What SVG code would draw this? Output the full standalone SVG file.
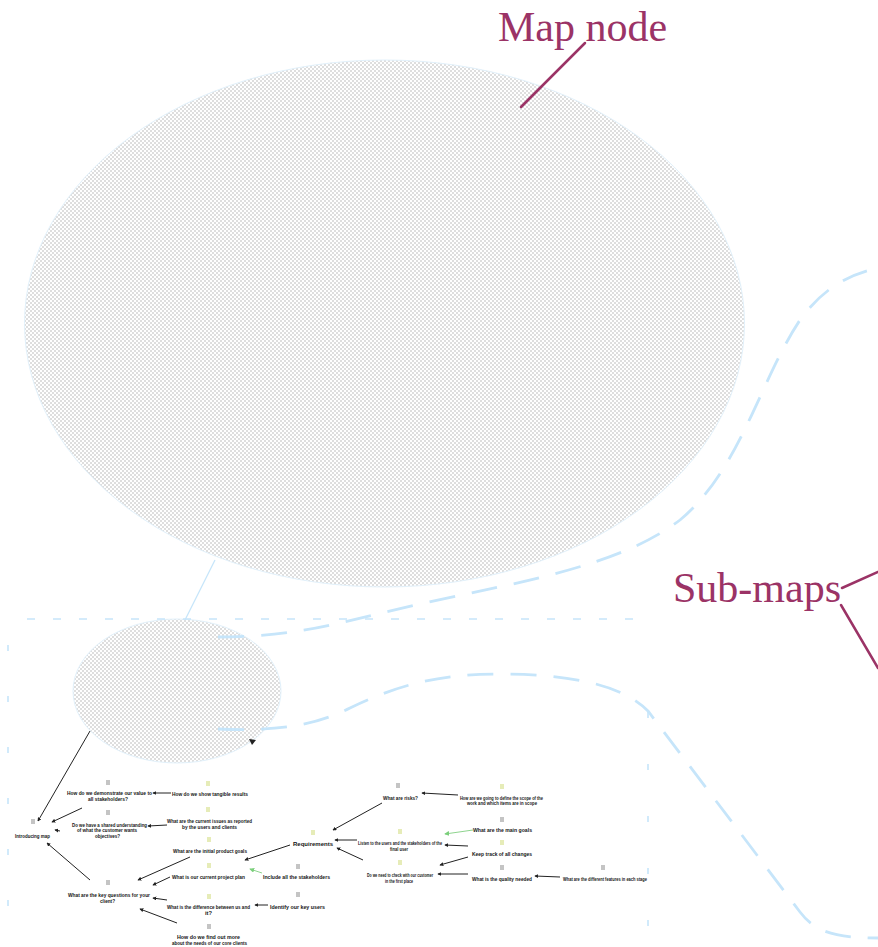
<svg xmlns="http://www.w3.org/2000/svg" width="878" height="947" viewBox="0 0 878 947">
  <style>
    .callout { font-family: "Liberation Serif", "Times New Roman", serif; font-size: 42px; fill: #9b3366; }
    .lead { stroke: #9b3366; stroke-width: 2.5; fill: none; stroke-linecap: round; }
    .submap { stroke: #c6e5fa; stroke-width: 2.8; fill: none; stroke-dasharray: 26 17; }
    .frame { stroke: #c6e5fa; stroke-width: 1.6; fill: none; }
    .blob { fill: url(#chk); stroke: #e2f1fb; stroke-width: 1; }
    .lbl { font-family: "Liberation Sans", Arial, sans-serif; font-size: 5px; font-weight: bold; fill: #151515; }
    .q { fill: #c4c4c4; }
    .i { fill: #e6ecb8; }
    .link { stroke: #222; stroke-width: 1; fill: none; marker-end: url(#ah); }
    .glink { stroke: #8fd48f; stroke-width: 1; fill: none; marker-end: url(#gah); }
  </style>
  <defs>
    <pattern id="chk" width="4" height="4" patternUnits="userSpaceOnUse">
      <rect width="4" height="4" fill="#ffffff"/>
      <rect width="2" height="2" fill="#dedede"/>
      <rect x="2" y="2" width="2" height="2" fill="#dedede"/>
    </pattern>
    <marker id="ah" viewBox="0 0 6 6" refX="5" refY="3" markerWidth="4" markerHeight="4" markerUnits="userSpaceOnUse" orient="auto">
      <path d="M0,0 L6,3 L0,6 Z" fill="#222"/>
    </marker>
    <marker id="gah" viewBox="0 0 6 6" refX="5" refY="3" markerWidth="5" markerHeight="5" markerUnits="userSpaceOnUse" orient="auto">
      <path d="M0,0 L6,3 L0,6 Z" fill="#7bcf7b"/>
    </marker>
  </defs>

  <rect width="878" height="947" fill="#ffffff"/>

  <!-- map node -->
  <g id="map-node">
    <ellipse class="blob" cx="384.5" cy="323.5" rx="360" ry="263.5"/>
  </g>

  <!-- map node as it appears inside the sub-map -->
  <g id="sub-map-node">
    <ellipse class="blob" cx="177" cy="691" rx="104" ry="72"/>
  </g>

  <!-- connectors: sub-map outlines, links and callout leaders -->
  <g id="connectors">
    <line x1="215" y1="560" x2="185" y2="620" stroke="#c6e5fa" stroke-width="1.2"/>
    <path class="frame" d="M27,619 H648" stroke-dasharray="8 18"/>
    <path class="frame" d="M8,645 V947" stroke-dasharray="6 45"/>
    <path class="frame" d="M648,712 V947" stroke-dasharray="6 46"/>
    <path class="submap" d="M218,637 C300,637 340,622 420,604 C520,582 620,566 680,520 C740,470 760,380 800,320 C820,292 845,275 878,268"/>
    <path class="submap" d="M218,729 C270,731 310,728 350,708 C400,684 440,674 500,674 C560,674 620,682 648,711 L800,912 C815,932 835,938 878,938"/>
    <path class="lead" d="M585,43 L521,107"/>
    <path class="lead" d="M842,588 L878,572"/>
    <path class="lead" d="M841,605 L878,668"/>
  </g>

  <g id="label-map-node">
    <text class="callout" x="498" y="41">Map node</text>
  </g>
  <g id="label-sub-maps">
    <text class="callout" x="673" y="602">Sub-maps</text>
  </g>

  <!-- sub-map contents -->
  <g id="sub-map">
    <path d="M249,739 L256,740 L252,745 Z" fill="#222"/>

    <g id="sub-map-links">
      <line class="link" x1="90" y1="731" x2="38" y2="821"/>
      <line class="link" x1="171" y1="793" x2="153" y2="793"/>
      <line class="link" x1="82" y1="808" x2="52" y2="822"/>
      <line class="link" x1="167" y1="825" x2="148" y2="826"/>
      <line class="link" x1="60" y1="831" x2="55" y2="830"/>
      <line class="link" x1="90" y1="880" x2="47" y2="843"/>
      <line class="link" x1="190" y1="857" x2="138" y2="880"/>
      <line class="link" x1="170" y1="877" x2="153" y2="885"/>
      <line class="link" x1="167" y1="900" x2="153" y2="898"/>
      <line class="link" x1="177" y1="923" x2="140" y2="909"/>
      <line class="link" x1="290" y1="845" x2="245" y2="860"/>
      <line class="glink" x1="262" y1="873" x2="250" y2="869"/>
      <line class="link" x1="268" y1="905" x2="255" y2="905"/>
      <line class="link" x1="382" y1="803" x2="333" y2="830"/>
      <line class="link" x1="458" y1="795" x2="422" y2="793"/>
      <line class="link" x1="357" y1="840" x2="335" y2="840"/>
      <line class="glink" x1="473" y1="830" x2="445" y2="834"/>
      <line class="link" x1="468" y1="846" x2="445" y2="845"/>
      <line class="link" x1="468" y1="857" x2="440" y2="865"/>
      <line class="link" x1="363" y1="860" x2="337" y2="848"/>
      <line class="link" x1="468" y1="874" x2="438" y2="874"/>
      <line class="link" x1="560" y1="877" x2="535" y2="876"/>
    </g>

    <g id="n-a"><rect class="q" x="31" y="819" width="4" height="5"/><text class="lbl" x="15" y="837.5" textLength="35" lengthAdjust="spacingAndGlyphs">Introducing map</text></g>
    <g id="n-b"><rect class="q" x="106" y="780" width="4" height="5"/><text class="lbl" x="67" y="794.5" textLength="85" lengthAdjust="spacingAndGlyphs">How do we demonstrate our value to</text><text class="lbl" x="88" y="801" textLength="40" lengthAdjust="spacingAndGlyphs">all stakeholders?</text></g>
    <g id="n-c"><rect class="i" x="206" y="781" width="4" height="5"/><text class="lbl" x="172" y="795.5" textLength="76" lengthAdjust="spacingAndGlyphs">How do we show tangible results</text></g>
    <g id="n-d"><rect class="q" x="106" y="810" width="4" height="5"/><text class="lbl" x="72" y="826.5" textLength="75" lengthAdjust="spacingAndGlyphs">Do we have a shared understanding</text><text class="lbl" x="77" y="832" textLength="60" lengthAdjust="spacingAndGlyphs">of what the customer wants</text><text class="lbl" x="95" y="837.5" textLength="25" lengthAdjust="spacingAndGlyphs">objectives?</text></g>
    <g id="n-e"><rect class="i" x="206" y="807" width="4" height="5"/><text class="lbl" x="167" y="822.5" textLength="85" lengthAdjust="spacingAndGlyphs">What are the current issues as reported</text><text class="lbl" x="182" y="828.5" textLength="55" lengthAdjust="spacingAndGlyphs">by the users and clients</text></g>
    <g id="n-f"><rect class="q" x="106" y="880" width="4" height="5"/><text class="lbl" x="68" y="896.5" textLength="82" lengthAdjust="spacingAndGlyphs">What are the key questions for your</text><text class="lbl" x="100" y="903" textLength="15" lengthAdjust="spacingAndGlyphs">client?</text></g>
    <g id="n-g"><rect class="i" x="207" y="837" width="4" height="5"/><text class="lbl" x="173" y="852.5" textLength="74" lengthAdjust="spacingAndGlyphs">What are the initial product goals</text></g>
    <g id="n-h"><rect class="i" x="207" y="863" width="4" height="5"/><text class="lbl" x="172" y="878.5" textLength="73" lengthAdjust="spacingAndGlyphs">What is our current project plan</text></g>
    <g id="n-i"><rect class="i" x="207" y="894" width="4" height="5"/><text class="lbl" x="167" y="908.5" textLength="83" lengthAdjust="spacingAndGlyphs">What is the difference between us and</text><text class="lbl" x="205" y="915" textLength="7" lengthAdjust="spacingAndGlyphs">it?</text></g>
    <g id="n-j"><rect class="q" x="207" y="924" width="4" height="5"/><text class="lbl" x="177" y="939" textLength="63" lengthAdjust="spacingAndGlyphs">How do we find out more</text><text class="lbl" x="172" y="945" textLength="75" lengthAdjust="spacingAndGlyphs">about the needs of our core clients</text></g>
    <g id="n-k"><rect class="i" x="311" y="830" width="4" height="5"/><text class="lbl" x="293" y="845.5" textLength="40" lengthAdjust="spacingAndGlyphs">Requirements</text></g>
    <g id="n-l"><rect class="q" x="296" y="864" width="4" height="5"/><text class="lbl" x="263" y="878.5" textLength="67" lengthAdjust="spacingAndGlyphs">Include all the stakeholders</text></g>
    <g id="n-m"><rect class="q" x="296" y="892" width="4" height="5"/><text class="lbl" x="270" y="908.5" textLength="55" lengthAdjust="spacingAndGlyphs">Identify our key users</text></g>
    <g id="n-n"><rect class="q" x="396" y="783" width="4" height="5"/><text class="lbl" x="383" y="799.5" textLength="35" lengthAdjust="spacingAndGlyphs">What are risks?</text></g>
    <g id="n-o"><rect class="i" x="500" y="784" width="4" height="5"/><text class="lbl" x="460" y="799.5" textLength="83" lengthAdjust="spacingAndGlyphs">How are we going to define the scope of the</text><text class="lbl" x="467" y="805" textLength="70" lengthAdjust="spacingAndGlyphs">work and which items are in scope</text></g>
    <g id="n-p"><rect class="i" x="398" y="829" width="4" height="5"/><text class="lbl" x="358" y="844.5" textLength="84" lengthAdjust="spacingAndGlyphs">Listen to the users and the stakeholders of the</text><text class="lbl" x="390" y="850.5" textLength="18" lengthAdjust="spacingAndGlyphs">final user</text></g>
    <g id="n-q"><rect class="q" x="500" y="817" width="4" height="5"/><text class="lbl" x="473" y="831.5" textLength="59" lengthAdjust="spacingAndGlyphs">What are the main goals</text></g>
    <g id="n-r"><rect class="i" x="500" y="840" width="4" height="5"/><text class="lbl" x="472" y="855.5" textLength="60" lengthAdjust="spacingAndGlyphs">Keep track of all changes</text></g>
    <g id="n-s"><rect class="i" x="398" y="860" width="4" height="5"/><text class="lbl" x="367" y="876.5" textLength="66" lengthAdjust="spacingAndGlyphs">Do we need to check with our customer</text><text class="lbl" x="385" y="882.5" textLength="28" lengthAdjust="spacingAndGlyphs">in the first place</text></g>
    <g id="n-t"><rect class="q" x="500" y="865" width="4" height="5"/><text class="lbl" x="472" y="880.5" textLength="60" lengthAdjust="spacingAndGlyphs">What is the quality needed</text></g>
    <g id="n-u"><rect class="q" x="601" y="865" width="4" height="5"/><text class="lbl" x="563" y="880.5" textLength="84" lengthAdjust="spacingAndGlyphs">What are the different features in each stage</text></g>
  </g>
</svg>
